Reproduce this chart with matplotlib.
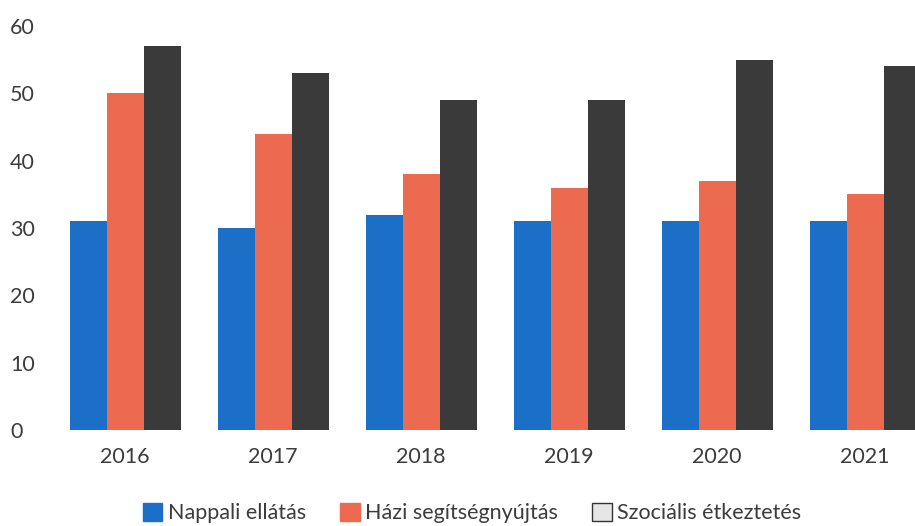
import numpy as np
import matplotlib.pyplot as plt
from matplotlib.patches import Patch

plt.rcParams['font.family'] = ['Lato', 'DejaVu Sans']

years = ['2016', '2017', '2018', '2019', '2020', '2021']
nappali = [31, 30, 32, 31, 31, 31]
hazi = [50, 44, 38, 36, 37, 35]
szocialis = [57, 53, 49, 49, 55, 54]
series_names = ['Nappali ellátás', 'Házi segítségnyújtás', 'Szociális étkeztetés']

c_blue = '#1c6fc6'
c_orange = '#ec6a50'
c_dark = '#3a3a3a'
txt = '#3c3c3c'

fig = plt.figure(figsize=(9.15, 5.26), dpi=100)
# axes runs past the right edge, the source picture is cropped there
ax = fig.add_axes([51/915, 96/526, 888/915, 404/526])

x = np.arange(len(years))
w = 0.25
ax.bar(x - w, nappali, w, color=c_blue)
ax.bar(x, hazi, w, color=c_orange)
ax.bar(x + w, szocialis, w, color=c_dark)

ax.set_xlim(-0.5, len(years) - 0.5)
ax.set_ylim(0, 60)
ax.set_yticks(range(0, 61, 10))
ax.set_xticks(x)
ax.set_xticklabels(years)
for s in ax.spines.values():
    s.set_visible(False)
ax.tick_params(axis='both', length=0, labelsize=15.5, labelcolor=txt)
ax.tick_params(axis='x', pad=12)
ax.tick_params(axis='y', pad=29.5)
for lab in ax.get_yticklabels():
    lab.set_horizontalalignment('left')

handles = [Patch(facecolor=c_blue, edgecolor=c_blue),
           Patch(facecolor=c_orange, edgecolor=c_orange),
           Patch(facecolor='#e6e6e6', edgecolor='#333333', linewidth=1)]
fig.legend(handles, series_names, loc='center', bbox_to_anchor=(472/915, 13/526),
           ncol=3, frameon=False, fontsize=15.5, handlelength=0.9, handleheight=0.9,
           handletextpad=0.25, columnspacing=1.6, labelcolor=txt)

fig.savefig('out.png', dpi=100)
